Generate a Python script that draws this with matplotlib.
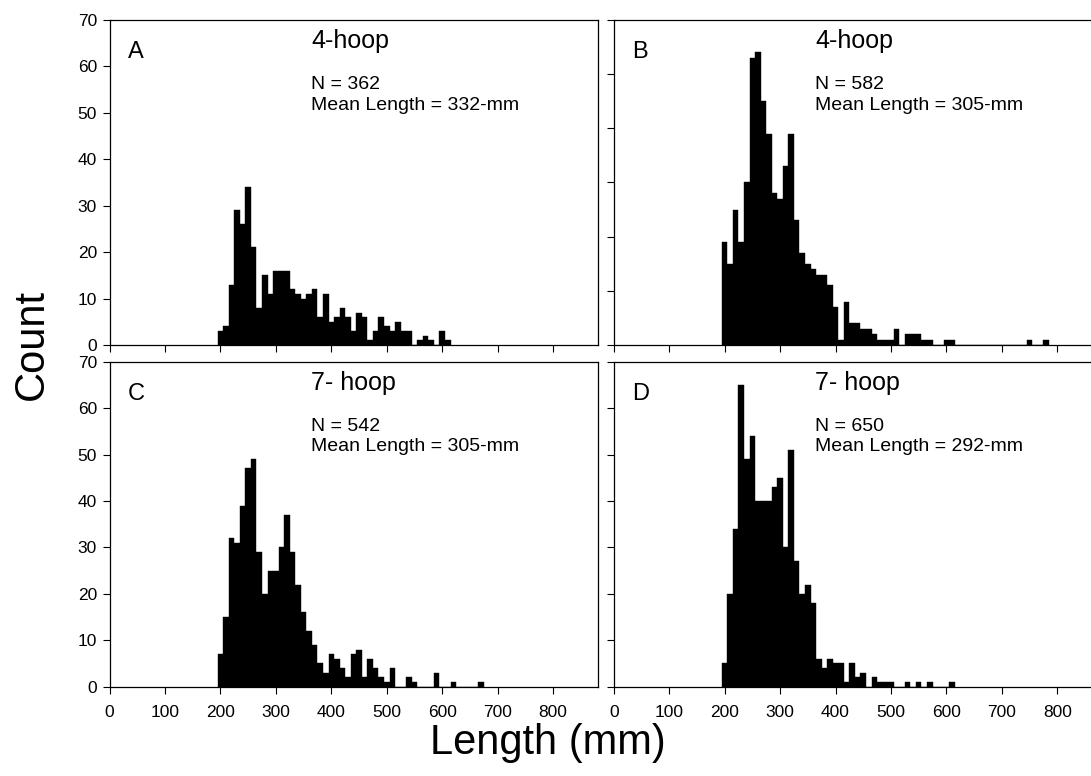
import matplotlib
matplotlib.use("Agg")
import matplotlib.pyplot as plt
import numpy as np

plt.rcParams['font.family'] = ['Liberation Sans', 'DejaVu Sans']

# 10-mm length classes, left edge of each class
bin_start = 195
bin_width = 10

# counts per class (from 195 mm upward)
count_a = [3, 4, 13, 29, 26, 34, 21, 8, 15, 11, 16, 16, 16, 12, 11, 10, 11, 12, 6, 11,
           5, 6, 8, 6, 3, 7, 6, 1, 3, 6, 4, 3, 5, 3, 3, 0, 1, 2, 1, 0, 3, 1]
count_b = [19, 15, 25, 19, 30, 53, 54, 45, 39, 28, 27, 33, 39, 23, 17, 15, 14, 13, 13, 11,
           7, 1, 8, 4, 4, 3, 3, 2, 1, 1, 1, 3, 0, 2, 2, 2, 1, 1, 0, 0, 1, 1,
           0, 0, 0, 0, 0, 0, 0, 0, 0, 0, 0, 0, 0, 1, 0, 0, 1]
count_c = [7, 15, 32, 31, 39, 47, 49, 29, 20, 25, 25, 30, 37, 29, 22, 16, 12, 9, 5, 3,
           7, 6, 4, 2, 7, 8, 2, 6, 4, 2, 1, 4, 0, 0, 2, 1, 0, 0, 0, 3, 0, 0, 1,
           0, 0, 0, 0, 1]
count_d = [5, 20, 34, 65, 49, 54, 40, 40, 40, 43, 45, 30, 51, 27, 20, 22, 18, 6, 4, 6,
           5, 5, 1, 5, 2, 3, 0, 2, 1, 1, 1, 0, 0, 1, 0, 1, 0, 1, 0, 0, 0, 1]

letters = ['A', 'B', 'C', 'D']
gear = ['4-hoop', '4-hoop', '7- hoop', '7- hoop']
n_fish = [362, 582, 542, 650]
mean_len = [332, 305, 305, 292]
y_top = [70, 60, 70, 70]

fig = plt.figure(figsize=(10.91, 7.76), dpi=100)
W, H = 1091.0, 776.0
ax_w = 488 / W
ax_h = 325 / H
boxes = [(109.5 / W, 1 - 345 / H), (613.7 / W, 1 - 345 / H),
         (109.5 / W, 1 - 686.7 / H), (613.7 / W, 1 - 686.7 / H)]

for i, counts in enumerate([count_a, count_b, count_c, count_d]):
    ax = fig.add_axes([boxes[i][0], boxes[i][1], ax_w, ax_h])
    left = bin_start + bin_width * np.arange(len(counts))
    ax.bar(left, counts, width=bin_width, align='edge', color='black',
           edgecolor='black', linewidth=0.3)
    ax.set_xlim(0, 880)
    ax.set_ylim(0, y_top[i])
    ax.set_xticks(np.arange(0, 900, 100))
    ax.set_yticks(np.arange(0, y_top[i] + 1, 10))
    ax.tick_params(direction='out', length=5, width=0.8, labelsize=12.5, colors='black')
    ax.tick_params(axis='x', pad=8)
    ax.tick_params(axis='y', pad=4)
    if i < 2:
        ax.set_xticklabels([])
    if i % 2 == 1:
        ax.set_yticklabels([])
    for s in ax.spines.values():
        s.set_linewidth(0.9)
    ax.text(0.038, 0.90, letters[i], transform=ax.transAxes, fontsize=17, va='center')
    ax.text(0.413, 0.934, gear[i], transform=ax.transAxes, fontsize=18, va='center')
    ax.text(0.413, 0.800, 'N = %d' % n_fish[i], transform=ax.transAxes, fontsize=14, va='center')
    ax.text(0.413, 0.738, 'Mean Length = %d-mm' % mean_len[i], transform=ax.transAxes,
            fontsize=14, va='center')

fig.text(32 / W, 1 - 345 / H, 'Count', rotation=90, fontsize=30, ha='center', va='center')
fig.text(548 / W, 1 - 743 / H, 'Length (mm)', fontsize=30, ha='center', va='center')

fig.savefig('out.png', dpi=100)
